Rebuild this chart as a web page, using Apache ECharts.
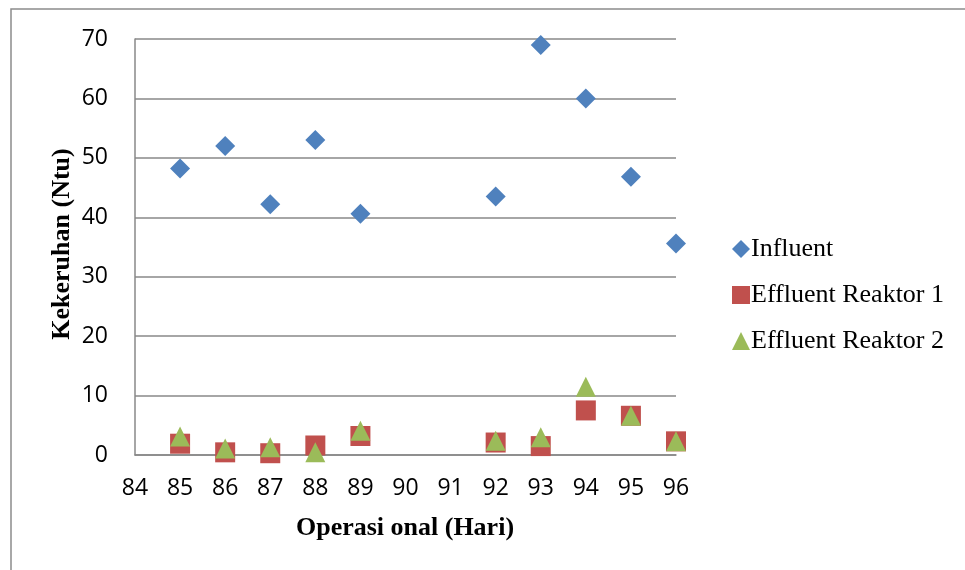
<!DOCTYPE html>
<html><head><meta charset="utf-8">
<script src="https://cdn.jsdelivr.net/npm/echarts@6/dist/echarts.min.js"></script>
<style>html,body{margin:0;padding:0;background:#fff}#c{width:965px;height:570px}</style>
</head><body><div id="c"></div>
<script>
const days = [85, 86, 87, 88, 89, 92, 93, 94, 95, 96];
const influent = [48.2, 52, 42.2, 53, 40.6, 43.5, 69, 60, 46.8, 35.6];
const effluent1 = [1.9, 0.45, 0.3, 1.6, 3.2, 2.1, 1.5, 7.5, 6.6, 2.3];
const effluent2 = [3.1, 1.1, 1.3, 0.45, 4.1, 2.4, 3.0, 11.5, 6.6, 2.3];
const seriesNames = ['Influent', 'Effluent Reaktor 1', 'Effluent Reaktor 2'];
const yTitle = 'Kekeruhan (Ntu)';
const xTitle = 'Operasi onal (Hari)';

const pair = arr => days.map((d, i) => [d, arr[i]]);
const chart = echarts.init(document.getElementById('c'));
chart.setOption({
  animation: false,
  graphic: [
    {type: 'rect', shape: {x: 11, y: 9, width: 1000, height: 600}, style: {fill: 'none', stroke: '#8c8c8c', lineWidth: 1.5}, z: -1},
    {type: 'text', x: 62, y: 244, rotation: Math.PI / 2, style: {text: yTitle, font: 'bold 26px "Liberation Serif"', fill: '#000', align: 'center', verticalAlign: 'middle'}},
    {type: 'text', x: 405, y: 528, style: {text: xTitle, font: 'bold 26px "Liberation Serif"', fill: '#000', align: 'center', verticalAlign: 'middle'}}
  ],
  grid: {left: 135, top: 39, width: 541, height: 416},
  xAxis: {
    type: 'value', min: 84, max: 96, interval: 1,
    axisLine: {show: true, lineStyle: {color: '#888', width: 1.5}},
    axisTick: {show: false}, splitLine: {show: false},
    axisLabel: {color: '#000', fontSize: 23, fontFamily: 'Open Sans', margin: 22}
  },
  yAxis: {
    type: 'value', min: 0, max: 70, interval: 10,
    axisLine: {show: true, lineStyle: {color: '#888', width: 1.5}},
    axisTick: {show: false},
    splitLine: {lineStyle: {color: '#888', width: 1.5}},
    axisLabel: {color: '#000', fontSize: 23, fontFamily: 'Open Sans', margin: 27}
  },
  legend: {
    orient: 'vertical', left: 727, top: 231, itemGap: 20,
    itemWidth: 18, itemHeight: 18,
    textStyle: {fontFamily: 'Liberation Serif', fontSize: 26, color: '#000', padding: [0, 0, 0, -4]},
    data: seriesNames
  },
  series: [
    {name: seriesNames[0], type: 'scatter', symbol: 'diamond', symbolSize: 20, data: pair(influent), itemStyle: {color: '#4F81BD', opacity: 1}},
    {name: seriesNames[1], type: 'scatter', symbol: 'rect', symbolSize: 20, data: pair(effluent1), itemStyle: {color: '#C0504D', opacity: 1}},
    {name: seriesNames[2], type: 'scatter', symbol: 'triangle', symbolSize: 20, data: pair(effluent2), itemStyle: {color: '#9BBB59', opacity: 1}}
  ]
});
</script></body></html>
